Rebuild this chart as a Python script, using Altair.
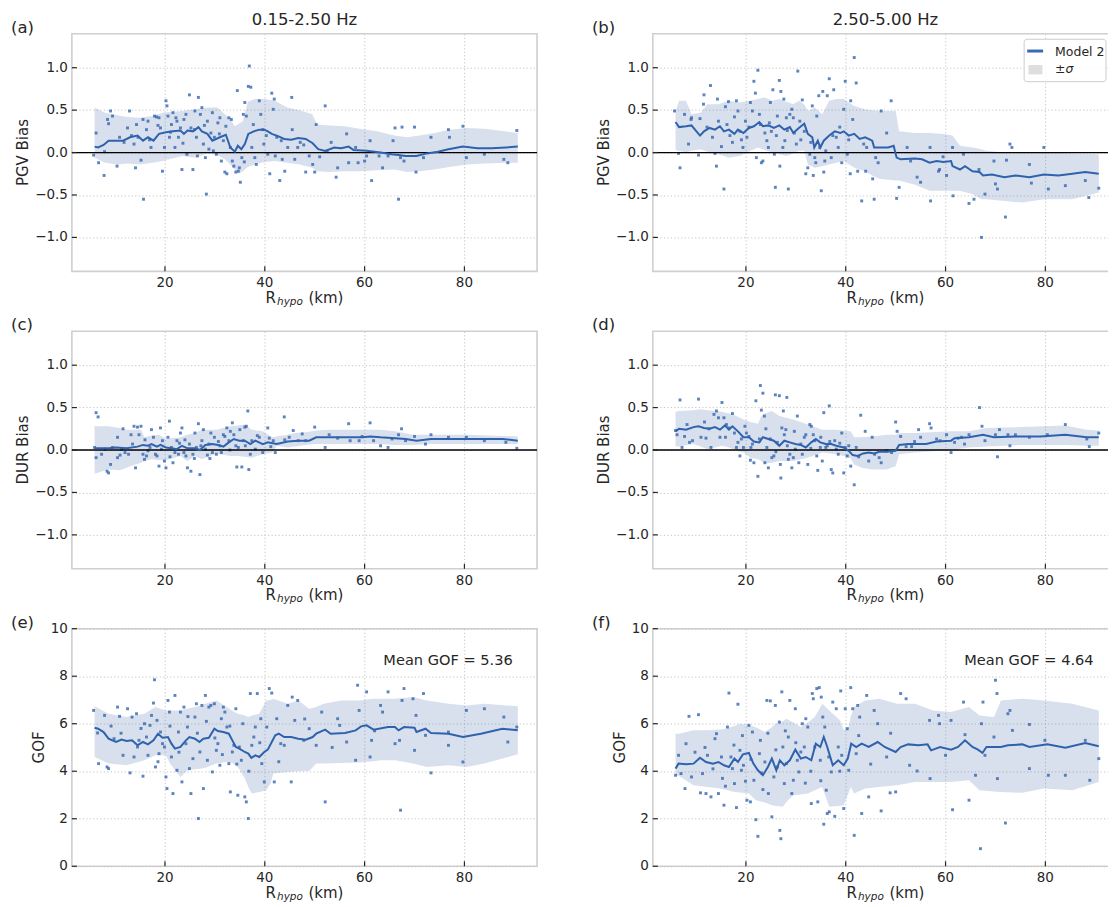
import altair as alt
import pandas as pd

W, H = 466, 238
TXT = "#262626"
LINE_C = "#2f62ad"
PT_C = "#2f62ad"
BAND_C = "#4c72b0"
FONT = "DejaVu Sans"

# ---------------- data ----------------
pts_a = [(5.7,-0.03),(6.2,0.23),(6.7,-0.12),(7.8,-0.27),(7.9,0.01),(8.5,0.39),(8.7,0.34),(9.1,0.49),(9.5,0.43),(10.4,-0.16),
 (10.9,0.18),(12.5,0.29),(12.9,0.49),(13.3,0.20),(14.1,-0.18),(14.3,0.33),(14.6,0.18),(15.2,-0.09),(15.6,0.39),(15.7,-0.55),
 (16.3,0.27),(16.6,0.37),(17.2,0.06),(17.9,0.43),(18.3,0.42),(18.8,0.41),(19.1,0.29),(19.5,-0.22),(19.9,0.06),(20.2,0.61),
 (20.4,0.55),(20.6,0.43),(20.9,0.18),(21.3,0.33),(21.6,0.47),(22.0,0.06),(22.4,0.37),(22.7,0.18),(23.1,0.29),(23.4,-0.20),
 (23.8,0.39),(24.2,0.45),(24.4,-0.02),(24.9,0.68),(25.2,0.29),(25.6,-0.20),(26.0,0.49),(26.3,0.18),(26.5,-0.04),(26.7,0.65),
 (27.1,0.45),(27.4,0.53),(27.7,0.10),(28.1,-0.06),(28.3,-0.49),(28.5,0.37),(28.8,0.04),(29.2,0.23),(29.5,0.47),(29.9,0.18),
 (30.3,-0.02),(30.6,0.35),(31.0,0.41),(31.3,-0.10),(31.7,0.14),(32.0,-0.23),(32.4,-0.25),(32.8,0.41),(33.1,0.06),(33.5,-0.10),
 (33.8,-0.16),(34.2,-0.23),(34.5,0.73),(34.7,-0.22),(34.9,-0.18),(35.1,-0.35),(35.4,-0.06),(35.7,0.45),(36.0,0.59),(36.3,0.43),
 (36.7,0.78),(36.9,1.02),(37.2,0.77),(37.4,0.06),(38.0,-0.06),(38.3,-0.14),(38.9,0.61),(39.2,0.45),(39.6,0.27),(40.3,0.20),
 (40.6,-0.02),(41.0,-0.25),(41.4,0.70),(41.7,0.51),(41.9,0.63),(42.1,-0.04),(42.4,0.18),(43.0,-0.33),(43.5,-0.08),(44.0,-0.22),
 (44.6,0.06),(45.4,0.65),(45.5,0.27),(46.0,-0.08),(46.6,0.06),(47.1,0.12),(48.2,-0.23),(48.9,-0.04),(49.6,-0.14),(50.0,-0.23),
 (50.3,0.33),(52.1,0.55),(52.5,0.02),(54.3,-0.29),(54.6,-0.18),(56.4,0.22),(56.8,-0.12),(58.2,0.06),(58.7,-0.12),(60.0,-0.10),
 (60.4,-0.04),(61.1,0.14),(61.4,-0.33),(62.9,-0.04),(63.6,-0.18),(64.7,-0.04),(65.7,0.14),(66.1,0.29),(66.8,-0.55),(67.2,-0.06),
 (67.5,0.30),(67.9,-0.10),(70.0,0.30),(70.3,-0.23),(71.8,-0.06),(73.3,0.18),(76.8,0.27),(77.0,0.18),(79.7,0.31),(80.4,-0.06),
 (84.0,-0.02),(87.9,-0.08),(88.7,-0.12),(90.5,0.26),
 (11.8,0.12),(13.8,0.10),(16.9,0.15),(18.6,0.32),(21.1,0.24),(22.2,0.41),(23.6,0.11),(25.9,0.27),(27.9,0.32),(29.7,0.02),
 (30.9,0.22),(32.2,0.31),(33.3,0.39),(35.9,-0.11),(37.7,0.33),(39.8,0.10),(43.3,0.14),(47.8,0.09),(51.0,-0.05),(53.3,0.12)]

line_a = [(5.9,0.07),(6.6,0.06),(7.7,0.09),(8.7,0.14),(10.2,0.14),(11.6,0.14),(13.0,0.18),(14.5,0.20),(15.6,0.14),(16.6,0.18),
 (17.7,0.14),(18.8,0.22),(20.2,0.24),(21.6,0.25),(23.1,0.26),(23.8,0.22),(24.5,0.26),(25.6,0.25),(26.7,0.30),(27.4,0.25),
 (28.5,0.22),(29.5,0.14),(31.0,0.18),(32.2,0.21),(33.1,0.06),(34.0,0.01),(34.6,0.08),(35.3,0.04),(36.0,0.10),(36.7,0.22),
 (37.8,0.25),(38.9,0.27),(39.9,0.27),(40.6,0.25),(41.4,0.22),(42.4,0.20),(43.9,0.16),(45.3,0.15),(46.7,0.17),(48.2,0.16),
 (49.6,0.11),(50.7,0.04),(52.1,0.02),(53.9,0.06),(55.3,0.05),(56.8,0.07),(57.8,0.03),(60.4,0.02),(63.2,0.00),(65.4,-0.02),
 (66.8,-0.03),(68.2,-0.04),(70.4,-0.04),(72.5,-0.01),(74.7,0.01),(76.8,0.04),(79.7,0.07),(82.6,0.05),(85.4,0.05),(88.3,0.06),
 (90.7,0.07)]

band_a = [(5.9,0.53,-0.06),(8.0,0.47,-0.12),(10.5,0.44,-0.14),(12.5,0.42,-0.13),(15.0,0.41,-0.14),(17.5,0.43,-0.12),
 (19.5,0.47,-0.10),(21.5,0.48,-0.07),(23.5,0.49,-0.04),(26.0,0.51,-0.06),(28.5,0.53,-0.01),(30.5,0.53,-0.03),(32.0,0.45,-0.08),
 (33.2,0.38,-0.15),(34.0,0.31,-0.20),(34.8,0.34,-0.25),(35.6,0.37,-0.22),(36.6,0.60,-0.17),(38.0,0.63,-0.14),(40.0,0.63,-0.11),
 (42.0,0.61,-0.10),(44.5,0.53,-0.12),(47.0,0.50,-0.14),(49.5,0.45,-0.18),(50.5,0.33,-0.22),(53.0,0.32,-0.23),(56.0,0.31,-0.22),
 (59.0,0.28,-0.22),(62.5,0.25,-0.21),(66.0,0.20,-0.20),(68.5,0.18,-0.23),(71.0,0.20,-0.22),(74.0,0.23,-0.20),(77.0,0.27,-0.17),
 (80.5,0.29,-0.14),(84.0,0.28,-0.13),(88.0,0.25,-0.12),(90.7,0.23,-0.12)]

pts_b = [(5.7,0.49),(6.5,-0.01),(6.8,-0.18),(7.7,0.45),(8.5,0.10),(9.0,0.39),(9.1,0.41),(10.5,-0.03),(10.8,0.40),(11.5,0.57),
 (11.6,0.68),(12.9,0.79),(13.8,-0.01),(14.1,-0.16),(14.3,0.63),(14.5,0.37),(15.1,0.07),(15.6,-0.43),(15.9,0.54),(16.5,0.60),
 (16.8,0.20),(17.3,0.12),(17.7,0.42),(18.1,0.61),(18.4,0.49),(18.8,0.25),(19.4,0.06),(19.9,0.37),(20.2,0.18),(20.9,0.59),
 (21.3,0.49),(21.6,0.84),(21.9,0.70),(22.1,-0.06),(22.4,0.97),(22.7,0.45),(23.1,-0.12),(23.4,-0.10),(23.8,0.23),(24.2,0.14),
 (24.5,0.06),(24.9,0.59),(25.1,0.25),(25.4,0.74),(25.7,-0.02),(25.9,-0.41),(26.3,0.43),(26.7,0.85),(26.8,-0.16),(27.0,0.72),
 (27.4,0.06),(27.6,0.63),(27.8,0.14),(28.1,0.41),(28.5,-0.43),(28.8,0.45),(29.2,0.51),(29.5,0.41),(29.7,0.23),(30.4,0.96),
 (30.8,0.37),(31.3,0.62),(31.7,0.25),(32.0,-0.25),(32.4,-0.18),(32.8,-0.02),(33.3,0.55),(33.5,-0.27),(33.8,-0.06),(34.2,0.43),
 (34.6,0.67),(34.8,0.06),(35.1,-0.45),(35.4,0.72),(35.6,-0.23),(35.8,-0.10),(36.3,0.67),(36.7,0.87),(37.1,-0.06),(37.4,0.20),
 (37.6,0.74),(38.1,0.18),(38.5,0.06),(39.2,-0.12),(39.6,0.51),(39.9,0.84),(40.3,-0.02),(40.9,-0.25),(41.0,0.61),(41.4,0.39),
 (41.7,1.12),(42.1,0.82),(42.4,-0.22),(43.2,-0.57),(44.0,-0.22),(44.2,0.06),(45.4,-0.31),(45.7,-0.55),(46.0,-0.06),(47.1,0.49),
 (48.2,0.23),(49.1,0.61),(50.2,-0.54),(50.7,-0.41),(52.3,0.06),(54.3,-0.29),(55.0,-0.35),(56.9,0.06),(57.0,-0.57),(58.6,-0.22),
 (58.8,-0.20),(60.2,-0.27),(61.4,0.06),(61.5,-0.51),(63.6,-0.02),(64.7,-0.60),(65.7,-0.55),(66.7,-0.20),(67.2,-1.00),(67.9,-0.49),
 (69.7,-0.10),(70.0,-0.37),(70.4,-0.43),(72.0,-0.76),(72.2,-0.09),(72.9,0.10),(73.3,0.06),(76.8,-0.14),(77.2,-0.36),(79.7,0.06),
 (80.6,-0.43),(84.0,-0.39),(88.0,-0.33),(88.7,-0.53),(90.7,-0.42),
 (12.2,0.30),(13.3,0.18),(16.2,0.33),(19.1,0.15),(20.6,0.30),(22.9,0.33),(24.7,0.35),(26.1,0.20),(28.3,0.26),(30.1,0.10),
 (31.0,0.15),(33.0,0.12),(34.0,-0.12),(36.0,0.02),(38.8,0.30),(40.6,0.15),(43.6,0.10),(46.5,-0.12),(53.0,-0.10),(59.5,-0.05)]

line_b = [(5.9,0.36),(6.6,0.30),(8.0,0.31),(9.1,0.32),(9.8,0.27),(10.8,0.20),(11.6,0.25),(12.7,0.29),(13.8,0.27),(14.8,0.31),
 (15.6,0.25),(16.6,0.27),(17.7,0.22),(18.4,0.27),(19.5,0.23),(20.6,0.29),(21.6,0.31),(22.7,0.36),(23.4,0.31),(24.5,0.32),
 (25.6,0.29),(26.7,0.32),(27.7,0.27),(28.8,0.30),(29.5,0.23),(30.6,0.29),(31.7,0.34),(32.4,0.22),(33.3,0.18),(33.7,0.06),
 (34.4,0.14),(34.9,0.06),(35.6,0.14),(36.7,0.20),(37.8,0.25),(38.9,0.23),(39.6,0.25),(40.6,0.20),(41.7,0.22),(42.8,0.16),
 (43.9,0.18),(45.3,0.14),(45.7,0.06),(47.1,0.06),(48.5,0.06),(49.6,0.08),(50.2,-0.06),(51.0,-0.08),(53.9,-0.07),(55.3,-0.08),
 (56.8,-0.12),(58.2,-0.10),(59.6,-0.11),(61.1,-0.10),(61.4,-0.16),(62.9,-0.20),(63.9,-0.16),(65.4,-0.22),(66.8,-0.23),(67.5,-0.27),
 (69.3,-0.26),(71.8,-0.29),(74.0,-0.27),(76.8,-0.29),(79.7,-0.26),(82.6,-0.27),(85.4,-0.25),(88.0,-0.23),(90.7,-0.25)]

band_b = [(5.9,0.48,0.03),(6.6,0.61,0.02),(8.0,0.61,0.00),(9.1,0.45,0.02),(10.9,0.47,0.04),(12.3,0.57,0.01),(14.5,0.57,-0.02),
 (16.6,0.61,-0.06),(18.8,0.59,-0.04),(20.9,0.61,0.02),(22.4,0.63,0.06),(23.8,0.65,0.03),(25.2,0.61,0.00),(26.7,0.63,-0.02),
 (28.1,0.60,-0.04),(29.5,0.57,-0.01),(30.6,0.61,0.02),(31.7,0.57,0.02),(32.4,0.49,-0.14),(33.8,0.53,-0.18),(35.3,0.45,-0.16),
 (36.7,0.61,-0.14),(38.1,0.63,-0.12),(39.6,0.63,-0.10),(41.7,0.55,-0.18),(43.9,0.51,-0.22),(45.3,0.50,-0.27),(46.7,0.49,-0.31),
 (50.0,0.49,-0.33),(50.7,0.25,-0.33),(53.9,0.23,-0.38),(56.8,0.23,-0.45),(59.6,0.22,-0.45),(61.4,0.20,-0.45),(62.9,0.08,-0.45),
 (65.4,0.06,-0.49),(67.2,0.04,-0.55),(68.2,0.02,-0.55),(71.8,0.00,-0.57),(75.4,0.00,-0.59),(79.7,0.00,-0.55),(85.4,-0.01,-0.55),
 (90.7,-0.02,-0.47)]

pts_c = [(5.9,0.03),(6.2,0.44),(6.6,0.39),(6.2,-0.09),(7.3,-0.05),(8.0,0.01),(8.4,-0.25),(8.7,-0.27),(9.1,-0.17),(9.5,0.03),
 (10.5,0.15),(10.5,-0.09),(11.3,0.01),(11.6,0.25),(12.0,-0.03),(12.7,-0.05),(13.2,0.18),(13.8,0.28),(14.1,-0.21),(14.5,0.27),
 (14.8,0.18),(15.2,0.28),(15.6,-0.05),(15.9,-0.11),(16.3,-0.07),(16.6,-0.01),(17.0,0.03),(17.3,0.24),(17.7,0.15),(18.1,-0.05),
 (18.4,-0.07),(18.8,-0.19),(19.1,0.26),(19.5,0.11),(19.9,-0.13),(20.2,-0.21),(20.6,0.15),(20.9,0.34),(21.3,0.03),(21.6,-0.15),
 (22.0,-0.03),(22.4,0.11),(22.7,-0.05),(23.1,0.20),(23.4,0.26),(23.8,-0.03),(24.2,-0.07),(24.5,-0.21),(24.9,0.07),(25.2,-0.25),
 (25.6,-0.05),(26.0,0.20),(26.3,0.03),(26.7,0.31),(27.0,-0.29),(27.4,0.11),(27.7,0.24),(28.1,0.01),(28.5,-0.06),(28.8,0.07),
 (29.2,0.20),(29.5,-0.03),(29.9,0.15),(30.3,-0.05),(31.0,0.05),(31.3,-0.03),(31.7,0.18),(32.0,0.16),(32.4,0.26),(32.8,0.11),
 (33.1,0.22),(33.5,0.32),(33.8,0.18),(34.2,0.05),(34.4,-0.20),(34.7,0.03),(35.0,0.24),(35.4,-0.20),(35.7,0.11),(36.0,0.27),
 (36.3,0.28),(36.6,0.46),(36.8,-0.23),(37.1,-0.05),(37.4,0.11),(38.1,0.01),(38.9,0.15),(39.6,-0.03),(40.6,0.26),(40.9,0.14),
 (41.7,0.11),(42.1,-0.03),(43.9,0.39),(44.9,0.15),(45.7,0.23),(46.7,0.11),(48.2,0.11),(50.0,0.27),(52.1,0.03),(54.6,0.14),
 (56.8,0.31),(57.1,0.11),(58.9,0.11),(61.1,0.32),(61.8,0.11),(63.2,0.05),(64.7,0.03),(66.8,0.18),(67.4,0.25),(68.2,0.11),
 (70.0,0.16),(72.2,0.07),(73.3,0.18),(76.8,0.15),(80.4,0.15),(84.0,0.11),(88.3,0.09),(90.5,0.02),
 (11.0,-0.06),(13.5,0.07),(16.0,0.12),(19.3,0.01),(21.0,-0.08),(22.9,0.08),(24.0,0.12),(25.9,-0.10),(27.2,0.05),(29.0,-0.10),
 (30.7,0.10),(33.0,0.00),(36.1,0.05),(38.5,0.17),(41.2,0.04),(44.0,0.12),(47.5,0.19),(52.9,0.18),(59.5,0.16),(65.5,0.13)]

line_c = [(5.9,0.02),(8.7,0.02),(10.2,0.03),(12.3,0.02),(14.5,0.04),(15.6,0.06),(16.6,0.05),(17.3,0.07),(18.4,0.04),(19.1,0.06),
 (20.2,0.03),(21.3,0.02),(22.4,0.01),(23.4,0.05),(24.5,0.02),(26.0,0.02),(27.0,0.00),(28.1,0.06),(29.5,0.07),(30.6,0.06),
 (31.7,0.04),(32.8,0.09),(33.8,0.13),(34.9,0.11),(36.0,0.11),(37.1,0.07),(38.1,0.11),(39.6,0.07),(40.6,0.09),(42.4,0.07),
 (44.6,0.10),(46.7,0.11),(48.9,0.11),(50.3,0.15),(53.2,0.15),(56.8,0.15),(59.6,0.15),(61.1,0.16),(63.2,0.15),(66.1,0.14),
 (68.2,0.13),(70.4,0.11),(73.3,0.13),(80.4,0.13),(87.6,0.13),(90.7,0.11)]

band_c = [(5.9,0.28,-0.28),(8.7,0.28,-0.23),(10.9,0.26,-0.24),(12.3,0.24,-0.21),(13.0,0.24,-0.19),(15.2,0.24,-0.15),
 (15.9,0.15,-0.13),(17.3,0.17,-0.11),(18.8,0.18,-0.12),(20.2,0.13,-0.12),(23.1,0.15,-0.07),(24.5,0.18,-0.13),(26.0,0.20,-0.07),
 (27.4,0.24,-0.11),(30.3,0.24,-0.04),(33.1,0.28,-0.07),(34.6,0.29,-0.07),(36.0,0.30,-0.08),(37.4,0.24,-0.09),(39.6,0.22,-0.05),
 (41.5,0.15,-0.03),(42.4,0.16,0.05),(44.6,0.18,0.03),(46.0,0.20,0.04),(48.2,0.21,0.06),(50.3,0.23,0.07),(53.0,0.24,0.07),
 (58.0,0.24,0.07),(63.2,0.24,0.07),(66.1,0.22,0.06),(69.7,0.18,0.06),(73.3,0.18,0.07),(80.4,0.18,0.07),(90.7,0.16,0.07)]

pts_d = [(5.9,0.23),(6.2,0.18),(6.8,0.59),(7.2,0.03),(7.7,0.16),(8.7,0.09),(9.3,0.11),(10.5,0.60),(11.0,0.15),(12.0,0.14),
 (13.0,0.03),(13.6,0.42),(14.1,0.46),(14.5,0.38),(14.8,0.15),(15.2,0.56),(15.6,0.38),(15.9,0.15),(16.6,0.26),(17.3,0.43),
 (17.7,0.20),(18.1,0.03),(18.4,0.09),(18.8,-0.07),(19.1,0.13),(19.5,0.03),(20.1,0.20),(20.6,0.16),(20.9,-0.12),(21.3,0.07),
 (21.6,-0.15),(22.0,0.58),(22.4,-0.31),(22.7,0.13),(22.9,0.76),(23.1,0.47),(23.4,0.67),(23.7,0.40),(23.8,-0.15),(24.2,0.03),
 (24.5,-0.21),(24.9,0.13),(25.2,-0.09),(25.6,-0.07),(25.9,0.65),(26.3,0.09),(26.7,0.64),(26.9,-0.17),(27.0,-0.33),(27.2,0.26),
 (27.5,0.46),(27.7,0.18),(28.0,0.24),(28.2,0.62),(28.5,-0.11),(28.8,-0.05),(29.2,-0.21),(29.5,-0.09),(29.9,0.01),(30.3,0.40),
 (30.6,-0.15),(31.0,0.07),(31.7,0.15),(32.0,0.18),(32.4,-0.17),(32.8,0.30),(33.1,0.28),(33.5,0.18),(33.8,0.11),(34.2,-0.07),
 (34.4,-0.24),(34.9,0.03),(35.3,-0.13),(35.6,0.44),(36.0,0.03),(36.3,0.05),(36.7,0.52),(37.1,-0.23),(37.4,-0.27),(37.8,0.11),
 (38.1,0.01),(38.5,-0.05),(39.2,0.20),(39.6,-0.27),(39.9,0.03),(40.3,-0.07),(41.0,-0.19),(41.7,-0.41),(42.1,0.03),(43.0,0.41),
 (43.9,0.22),(44.6,-0.13),(45.3,0.15),(46.7,-0.09),(47.1,-0.15),(48.2,-0.01),(49.2,-0.03),(50.0,0.33),(50.3,0.22),(51.0,0.16),
 (52.1,0.04),(53.2,0.04),(54.6,0.24),(55.0,0.15),(56.8,0.31),(57.1,0.26),(58.2,0.13),(58.9,0.11),(60.2,0.18),(61.1,-0.03),
 (61.8,0.09),(63.2,0.15),(63.8,0.07),(64.7,0.18),(66.8,0.50),(67.3,0.28),(67.9,0.11),(70.0,0.18),(70.4,-0.08),(70.8,0.24),
 (72.5,0.18),(72.9,0.05),(74.0,0.18),(76.8,0.15),(80.4,0.18),(84.0,0.30),(88.3,0.13),(88.8,0.04),(90.7,0.20),
 (8.2,0.30),(11.7,0.33),(12.6,0.25),(16.1,0.30),(19.8,0.28),(21.0,0.03),(24.0,0.25),(26.0,-0.02),(28.3,0.05),(29.7,0.22),
 (31.3,-0.05),(33.0,0.02),(35.0,0.15),(36.8,0.10),(38.8,0.08),(40.6,0.05),(42.6,-0.08),(45.8,-0.05),(53.8,0.10),(62.5,0.14)]

line_d = [(5.9,0.22),(6.6,0.25),(8.0,0.24),(9.5,0.27),(10.5,0.28),(11.6,0.26),(12.7,0.25),(13.8,0.27),(14.8,0.24),(15.8,0.29),
 (16.6,0.24),(17.3,0.28),(18.4,0.22),(19.5,0.15),(20.6,0.15),(21.6,0.10),(22.7,0.09),(23.4,0.15),(24.5,0.13),(25.6,0.11),
 (26.7,0.05),(27.7,0.11),(28.8,0.09),(29.9,0.07),(31.0,0.06),(32.0,0.03),(33.1,0.09),(34.0,0.13),(34.9,0.09),(36.0,0.07),
 (37.1,0.07),(38.1,0.05),(39.6,0.03),(40.6,-0.01),(41.4,-0.06),(42.4,-0.07),(43.5,-0.04),(44.6,-0.03),(45.7,-0.04),(46.7,-0.02),
 (48.2,-0.02),(50.0,-0.01),(50.7,0.06),(52.5,0.07),(54.6,0.07),(56.1,0.07),(58.2,0.10),(61.1,0.11),(61.8,0.14),(64.7,0.15),
 (67.5,0.18),(69.7,0.15),(74.0,0.16),(79.0,0.16),(84.0,0.18),(88.3,0.15),(90.7,0.15)]

band_d = [(5.9,0.45,0.04),(6.6,0.46,0.04),(9.5,0.47,0.07),(10.9,0.48,0.04),(12.3,0.47,0.01),(13.8,0.46,0.03),(15.2,0.45,0.05),
 (15.9,0.44,0.04),(16.6,0.43,0.03),(18.1,0.40,-0.01),(19.5,0.36,-0.03),(20.9,0.33,-0.09),(22.4,0.31,-0.11),(23.1,0.40,-0.13),
 (23.8,0.43,-0.16),(25.2,0.46,-0.15),(26.7,0.40,-0.13),(29.5,0.36,-0.13),(32.4,0.30,-0.09),(35.3,0.24,-0.03),(38.1,0.24,-0.05),
 (39.6,0.23,-0.07),(41.0,0.22,-0.10),(41.7,0.15,-0.17),(43.2,0.15,-0.21),(45.3,0.16,-0.23),(48.2,0.18,-0.23),(50.0,0.18,-0.19),
 (50.7,0.20,-0.05),(53.9,0.20,-0.03),(61.1,0.22,0.00),(64.7,0.22,0.03),(68.2,0.26,0.04),(75.4,0.27,0.06),(84.0,0.29,0.06),
 (88.3,0.24,0.05),(90.7,0.23,0.05)]

pts_e = [(5.7,6.56),(6.5,5.61),(6.7,4.32),(7.9,6.35),(8.4,4.18),(8.7,4.11),(9.8,5.37),(10.5,6.70),(10.9,6.31),(11.6,4.67),
 (12.5,6.63),(13.0,3.93),(13.4,6.28),(14.3,6.42),(14.5,5.02),(14.8,5.30),(15.6,3.79),(15.9,6.00),(16.3,5.44),(16.6,4.67),
 (17.0,5.93),(17.3,6.35),(17.7,6.87),(17.9,7.85),(18.1,4.18),(18.4,6.14),(18.8,4.74),(19.1,5.65),(19.5,5.16),(19.9,5.02),
 (20.2,3.76),(20.4,3.27),(20.6,6.98),(20.9,6.49),(21.3,4.60),(21.6,3.06),(22.0,7.19),(22.4,4.04),(22.7,5.65),(23.1,6.49),
 (23.4,3.55),(23.8,6.70),(24.2,5.16),(24.5,5.86),(24.9,4.11),(25.2,3.06),(25.6,4.53),(26.0,6.28),(26.3,6.84),(26.7,2.01),
 (27.0,4.81),(27.4,6.77),(27.7,3.27),(28.1,7.19),(28.5,4.46),(28.8,6.70),(29.2,6.77),(29.5,3.97),(29.9,6.84),(30.3,4.88),
 (30.6,5.16),(31.0,4.25),(31.3,6.21),(31.7,6.70),(32.0,6.49),(32.4,5.86),(32.8,4.32),(33.1,3.13),(33.5,4.81),(33.8,5.09),
 (34.2,6.63),(34.6,2.99),(34.9,5.02),(35.3,4.46),(35.6,6.00),(36.0,2.92),(36.3,2.71),(36.7,2.01),(37.1,7.27),(37.4,5.09),
 (37.8,5.44),(38.1,5.86),(38.5,7.27),(39.2,6.21),(39.4,4.32),(39.9,3.55),(40.4,5.86),(40.9,7.48),(41.4,7.29),(41.9,3.55),
 (42.4,6.21),(43.2,5.16),(43.9,5.09),(44.6,6.77),(45.3,3.55),(45.5,7.12),(46.0,6.14),(46.6,6.98),(47.8,5.30),(48.9,5.79),
 (50.3,5.09),(51.4,6.49),(52.1,2.71),(54.6,6.21),(55.0,5.93),(56.4,5.23),(58.2,4.46),(58.6,7.62),(58.9,6.56),(60.4,7.34),
 (61.1,4.60),(61.4,5.30),(63.2,6.77),(63.6,6.49),(64.7,7.34),(66.1,5.16),(67.0,5.30),(67.2,2.36),(67.5,6.98),(67.9,7.48),
 (69.7,7.05),(70.0,4.88),(70.3,6.35),(71.8,7.27),(72.2,5.51),(73.3,3.93),(76.8,5.09),(76.8,5.65),(79.7,4.39),(80.4,6.56),
 (84.0,6.63),(87.9,6.28),(88.7,5.23),(90.5,5.86),
 (9.2,5.90),(11.2,5.60),(13.8,4.60),(15.2,5.80),(18.6,4.40),(21.0,5.90),(22.8,4.80),(24.6,6.30),(26.5,5.60),(28.3,6.10),
 (30.0,5.40),(31.5,4.70),(33.0,5.90),(34.4,4.30),(36.8,4.00),(39.0,5.20),(42.8,4.40),(48.0,6.20),(53.5,5.00),(62.0,5.70)]

line_e = [(5.9,5.83),(6.6,5.79),(7.7,5.65),(8.7,5.37),(10.2,5.23),(11.3,5.33),(12.3,5.27),(13.4,5.30),(14.5,5.09),(15.6,5.23),
 (16.6,5.13),(17.7,5.30),(18.6,5.58),(19.5,5.41),(20.6,5.44),(21.3,5.16),(22.0,4.95),(23.1,5.02),(24.2,5.30),(24.9,5.44),
 (26.0,5.37),(26.9,5.23),(27.7,5.37),(28.8,5.41),(29.9,5.79),(30.6,5.69),(31.7,5.65),(32.8,5.58),(33.5,5.30),(34.2,5.02),
 (34.9,4.95),(36.0,4.81),(36.7,4.74),(37.3,4.56),(38.1,4.67),(38.9,4.60),(39.9,4.81),(40.6,4.91),(41.4,5.23),(42.1,5.51),
 (42.8,5.58),(43.9,5.44),(45.3,5.44),(46.7,5.37),(48.2,5.33),(49.6,5.44),(50.3,5.58),(52.1,5.75),(53.2,5.58),(56.1,5.61),
 (58.2,5.72),(59.3,5.89),(60.4,5.93),(61.8,5.75),(64.7,5.86),(66.1,5.86),(66.8,5.72),(67.9,5.86),(70.0,5.83),(70.4,5.65),
 (72.2,5.79),(73.3,5.61),(76.8,5.58),(79.7,5.44),(83.3,5.58),(87.6,5.79),(90.7,5.72)]

band_e = [(5.9,6.73,4.60),(8.7,6.42,4.32),(12.3,6.28,4.25),(15.9,6.42,4.46),(18.1,6.70,4.67),(20.2,6.56,4.67),(21.0,6.56,4.32),
 (23.1,6.56,3.76),(24.5,6.63,4.04),(26.0,6.70,4.08),(27.4,6.77,4.11),(28.1,6.84,4.15),(30.3,6.98,4.32),(32.4,6.70,4.39),
 (33.5,6.55,4.35),(34.6,6.42,4.18),(36.0,6.35,3.70),(36.7,6.28,3.34),(37.4,6.35,3.06),(38.9,6.42,3.13),(40.3,6.98,3.20),
 (41.2,7.00,3.50),(41.7,7.05,3.90),(44.6,6.84,3.97),(46.7,6.98,4.00),(48.9,6.63,4.01),(50.3,6.70,4.32),(51.8,6.84,4.32),
 (55.3,6.98,4.35),(58.9,6.98,4.37),(61.8,7.05,4.42),(63.2,7.05,4.46),(66.1,7.05,4.46),(69.7,7.12,4.32),(72.5,6.98,4.18),
 (76.8,6.84,4.25),(80.4,6.77,4.18),(84.0,6.84,4.32),(90.7,6.73,4.71)]

pts_f = [(5.9,3.83),(6.5,4.67),(7.0,3.90),(7.8,3.27),(8.0,5.16),(8.6,6.31),(9.1,3.76),(10.5,6.38),(10.9,3.09),(11.3,3.90),
 (12.0,3.06),(12.3,4.67),(13.0,2.92),(13.8,5.37),(14.1,5.58),(14.5,3.06),(15.1,4.60),(15.6,2.57),(15.9,3.37),(16.3,5.86),
 (16.6,7.29),(17.0,4.60),(17.3,4.11),(17.7,3.48),(18.1,2.47),(18.4,6.82),(18.8,4.88),(19.1,4.04),(19.5,4.25),(19.9,3.58),
 (20.2,2.78),(20.6,5.93),(20.9,2.71),(21.3,5.65),(21.6,3.62),(22.0,1.96),(22.4,1.26),(22.7,4.74),(23.1,3.93),(23.4,3.23),
 (23.8,4.39),(24.2,6.98),(24.5,3.06),(24.9,6.96),(25.2,2.08),(25.6,3.76),(25.9,6.77),(26.3,4.18),(26.7,6.07),(26.8,1.51),
 (27.0,1.16),(27.2,7.34),(27.4,5.02),(27.7,3.48),(28.1,4.32),(28.5,5.44),(28.8,6.98),(29.2,3.06),(29.5,3.62),(29.9,6.63),
 (30.3,4.46),(30.6,3.97),(31.0,4.81),(31.3,6.00),(31.7,5.02),(32.0,6.21),(32.4,5.86),(33.1,2.64),(33.3,7.27),(33.5,7.05),
 (33.8,5.02),(34.2,7.48),(34.4,2.71),(34.7,7.52),(34.9,4.46),(35.1,7.12),(35.4,6.28),(35.6,1.77),(35.8,5.86),(36.1,3.20),
 (36.3,2.22),(36.7,2.29),(37.1,3.97),(37.4,6.91),(37.8,2.10),(38.1,6.63),(38.5,5.02),(39.0,7.38),(39.2,4.67),(39.6,2.43),
 (39.9,6.63),(40.3,5.79),(40.6,4.04),(41.0,7.52),(41.4,6.63),(41.7,1.30),(42.1,4.74),(42.4,6.77),(42.8,6.28),(43.2,2.22),
 (44.2,7.19),(44.6,2.92),(45.7,6.56),(46.4,6.00),(47.1,2.33),(48.2,4.60),(48.9,3.09),(50.0,3.13),(51.0,7.27),(52.1,7.05),
 (52.8,4.25),(54.3,4.01),(56.8,6.14),(56.9,3.69),(58.6,6.35),(58.8,6.00),(60.0,4.67),(61.1,6.14),(61.4,2.38),(63.6,6.91),
 (63.9,5.54),(64.7,2.78),(66.0,3.83),(67.0,0.74),(67.2,6.00),(67.5,6.91),(67.9,4.67),(69.7,5.44),(70.0,7.83),(70.3,7.27),
 (70.4,3.69),(72.0,1.82),(72.5,6.42),(72.9,6.56),(73.4,5.72),(76.8,4.11),(76.8,5.97),(79.9,5.30),(80.6,3.83),(84.0,3.83),
 (88.0,5.30),(88.9,3.62),(90.7,4.53),
 (9.8,4.80),(11.8,5.00),(13.4,4.10),(15.3,3.70),(17.6,5.10),(19.3,5.50),(21.0,4.50),(22.9,5.30),(24.4,5.60),(26.0,4.90),
 (27.9,5.70),(30.0,5.20),(31.9,3.50),(33.0,4.00),(35.0,3.60),(36.6,4.60),(38.8,4.00),(42.6,5.50),(45.0,4.30),(49.0,5.60)]

line_f = [(5.9,4.11),(6.5,4.32),(8.0,4.29),(9.5,4.32),(10.8,4.57),(12.0,4.39),(13.4,4.32),(14.5,4.39),(15.6,4.25),(16.6,4.18),
 (17.7,4.53),(18.4,4.39),(19.4,4.71),(20.6,4.77),(21.5,4.32),(22.4,4.04),(23.4,3.83),(24.4,4.18),(25.2,4.53),(26.1,4.04),
 (26.8,4.46),(27.7,4.25),(28.8,4.46),(29.9,4.91),(31.0,4.53),(32.0,4.60),(33.1,4.46),(34.0,5.16),(34.9,5.02),(35.6,5.44),
 (36.3,5.02),(37.4,4.25),(38.5,4.46),(39.6,4.25),(40.4,4.53),(41.1,5.16),(42.1,5.02),(43.2,5.16),(44.6,5.02),(46.4,5.23),
 (47.8,5.02),(50.0,4.81),(51.0,5.02),(52.5,5.13),(54.6,5.09),(56.4,5.13),(57.1,4.88),(58.9,5.02),(61.1,4.91),(62.5,5.02),
 (63.9,5.30),(65.4,5.02),(66.5,4.91),(67.4,4.77),(68.2,5.02),(71.1,5.02),(72.5,5.09),(75.4,5.13),(76.8,5.02),(80.4,5.13),
 (84.0,4.99),(88.0,5.19),(90.7,5.05)]

band_f = [(5.9,5.58,3.83),(6.6,5.58,3.80),(9.5,5.72,3.41),(12.3,5.72,3.34),(14.8,5.76,3.27),(15.9,5.79,3.22),(17.7,5.90,3.13),
 (18.8,6.00,3.10),(20.6,5.95,3.06),(22.0,5.85,2.78),(23.8,5.65,2.68),(25.2,5.85,2.57),(25.9,6.00,2.55),(27.4,6.10,2.50),
 (28.1,6.21,2.70),(29.5,6.05,2.99),(31.0,5.86,3.02),(32.4,6.05,3.06),(33.8,6.28,3.20),(35.3,6.84,3.34),(36.7,6.56,2.50),
 (38.9,6.14,2.55),(39.6,5.72,2.57),(40.6,5.86,3.10),(41.0,6.30,3.34),(41.7,6.70,3.06),(43.9,6.98,3.27),(46.7,7.05,3.34),
 (50.3,6.84,3.41),(53.9,6.84,3.55),(57.5,6.56,3.55),(61.1,6.49,3.55),(64.7,6.70,3.62),(66.8,6.35,3.20),(69.7,6.28,3.15),
 (71.1,6.98,3.13),(75.4,7.05,3.09),(79.7,6.98,3.27),(85.4,6.84,3.20),(90.7,6.56,3.55)]

x_ticks = [20, 40, 60, 80]
x_tick_labels = ["20", "40", "60", "80"]
bias_ticks = [-1.0, -0.5, 0.0, 0.5, 1.0]
bias_tick_labels = ["\u22121.0", "\u22120.5", "0.0", "0.5", "1.0"]
gof_ticks = [0, 2, 4, 6, 8, 10]
gof_tick_labels = ["0", "2", "4", "6", "8", "10"]
col_titles = ["0.15-2.50 Hz", "2.50-5.00 Hz"]
panel_labels = ["(a)", "(b)", "(c)", "(d)", "(e)", "(f)"]
y_titles = ["PGV Bias", "PGV Bias", "DUR Bias", "DUR Bias", "GOF", "GOF"]
mean_gof = ["Mean GOF = 5.36", "Mean GOF = 4.64"]
legend_labels = ["Model 2", "\u00b1", "\u03c3"]

XS = alt.Scale(domain=[1.35, 94.55], nice=False, zero=False)
GRID = dict(grid=True, ticks=False, domain=False, labels=False, title=None,
            gridColor="#c4c4c4", gridDash=[1.2, 2.3], gridWidth=1)
XAX = alt.Axis(values=x_ticks, **GRID)


def txt(text, x, y, size, align="left", style="normal", baseline="alphabetic", angle=0):
    d = pd.DataFrame({"t": [text]})
    return alt.Chart(d).mark_text(align=align, baseline=baseline, fontSize=size, font=FONT,
                                  fontStyle=style, color=TXT, angle=angle).encode(
        x=alt.value(x), y=alt.value(y), text="t:N")


def panel(idx, pts, line, band, ydom, yticks, ylabels, ytitle_x, zero=True):
    YS = alt.Scale(domain=ydom, nice=False, zero=False)
    YAX = alt.Axis(values=yticks, **GRID)
    X = lambda f: alt.X(f, type="quantitative", scale=XS, axis=XAX)
    Y = lambda f: alt.Y(f, type="quantitative", scale=YS, axis=YAX)

    bdf = pd.DataFrame(band, columns=["r", "hi", "lo"])
    pdf = pd.DataFrame(pts, columns=["r", "v"])
    ldf = pd.DataFrame(line, columns=["r", "v"])

    layers = []
    layers.append(alt.Chart(bdf).mark_area(color=BAND_C, opacity=0.22).encode(
        x=X("r"), y=Y("lo"), y2="hi"))
    layers.append(alt.Chart(pdf).mark_square(size=8.5, color=PT_C, opacity=0.78).encode(
        x=X("r"), y=Y("v")))
    if zero:
        layers.append(alt.Chart(pd.DataFrame({"z": [0.0]})).mark_rule(color="black", strokeWidth=1.3).encode(
            y=Y("z")))
    layers.append(alt.Chart(ldf).mark_line(color=LINE_C, strokeWidth=2).encode(
        x=X("r"), y=Y("v")))
    # inward tick marks
    ydf = pd.DataFrame({"t": yticks, "lab": ylabels})
    xdf = pd.DataFrame({"t": x_ticks, "lab": x_tick_labels})
    layers.append(alt.Chart(ydf).mark_rule(color=TXT, strokeWidth=1.2).encode(
        y=Y("t"), x=alt.value(0), x2=alt.value(5)))
    layers.append(alt.Chart(xdf).mark_rule(color=TXT, strokeWidth=1.2).encode(
        x=X("t"), y=alt.value(H - 5), y2=alt.value(H)))
    # tick labels
    layers.append(alt.Chart(ydf).mark_text(align="right", baseline="middle", fontSize=13.5, font=FONT,
                                           color=TXT).encode(y=Y("t"), x=alt.value(-4), text="lab:N"))
    layers.append(alt.Chart(xdf).mark_text(align="center", baseline="top", fontSize=13.5, font=FONT,
                                           color=TXT).encode(x=X("t"), y=alt.value(H + 5), text="lab:N"))
    # axis titles
    layers.append(txt(y_titles[idx], ytitle_x, H / 2, 15, align="center", baseline="middle", angle=270))
    layers.append(txt("R", 194, H + 31.5, 15))
    layers.append(txt("hypo", 205.5, H + 33.5, 10.5, style="italic"))
    layers.append(txt("(km)", 237, H + 31.5, 15))
    # panel label
    layers.append(txt(panel_labels[idx], -61, -1, 16.5))
    row, col = divmod(idx, 2)
    if row == 0:
        layers.append(txt(col_titles[col], W / 2, -9, 16.5, align="center"))
    if row == 2:
        layers.append(txt(mean_gof[col], 441.6, 36, 14.6, align="right"))
    if idx == 1:
        layers.append(alt.Chart(pd.DataFrame({"a": [0]})).mark_rect(
            fill="white", fillOpacity=0.85, stroke="#cccccc", strokeWidth=1, cornerRadius=3).encode(
            x=alt.value(372), x2=alt.value(454), y=alt.value(5.5), y2=alt.value(48)))
        layers.append(alt.Chart(pd.DataFrame({"a": [0]})).mark_rule(
            color="#3a6cb4", strokeWidth=3).encode(
            x=alt.value(375), x2=alt.value(391), y=alt.value(17.3)))
        layers.append(alt.Chart(pd.DataFrame({"a": [0]})).mark_rect(
            fill="#dedede").encode(
            x=alt.value(376.3), x2=alt.value(390.3), y=alt.value(31.3), y2=alt.value(40.7)))
        layers.append(txt(legend_labels[0], 403, 22, 12.5))
        layers.append(txt(legend_labels[1], 403, 39.7, 12.5))
        layers.append(txt(legend_labels[2], 413.5, 39.7, 12.5, style="italic"))
    return alt.layer(*layers).properties(width=W, height=H)


BIAS_DOM = [-1.4, 1.4]
GOF_DOM = [0, 10]
panels = [
    panel(0, pts_a, line_a, band_a, BIAS_DOM, bias_ticks, bias_tick_labels, -48.5),
    panel(1, pts_b, line_b, band_b, BIAS_DOM, bias_ticks, bias_tick_labels, -48.5),
    panel(2, pts_c, line_c, band_c, BIAS_DOM, bias_ticks, bias_tick_labels, -48.5),
    panel(3, pts_d, line_d, band_d, BIAS_DOM, bias_ticks, bias_tick_labels, -48.5),
    panel(4, pts_e, line_e, band_e, GOF_DOM, gof_ticks, gof_tick_labels, -32.5, zero=False),
    panel(5, pts_f, line_f, band_f, GOF_DOM, gof_ticks, gof_tick_labels, -32.5, zero=False),
]

chart = alt.concat(*panels, columns=2, spacing={"row": 60, "column": 116}, bounds="flush").properties(
    padding={"left": 2, "top": 2, "right": -12, "bottom": 0}
).configure(font=FONT).configure_view(
    stroke="#cfcfcf", strokeWidth=1.6
)

chart.save("out.html", embed_options={"renderer": "svg", "actions": False})
